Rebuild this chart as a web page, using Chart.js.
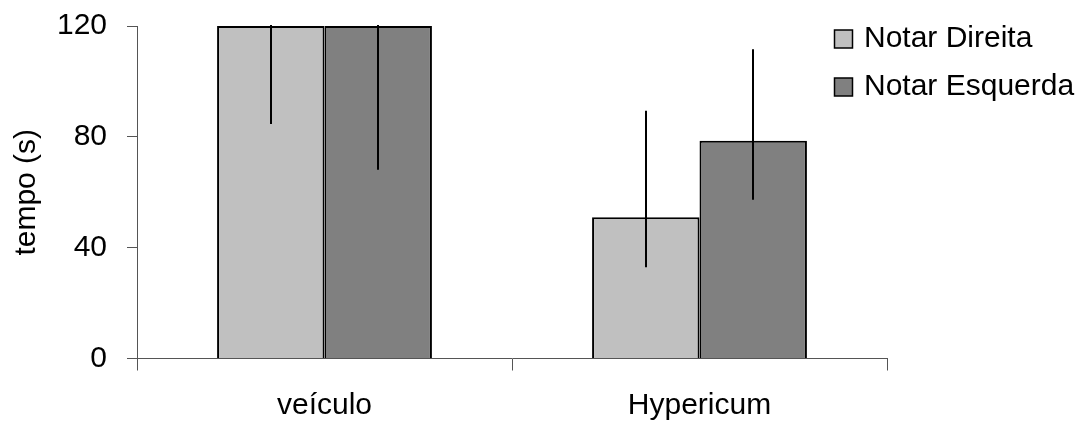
<!DOCTYPE html>
<html>
<head>
<meta charset="utf-8">
<script src="https://cdn.jsdelivr.net/npm/chart.js@4.4.1/dist/chart.umd.min.js"></script>
<style>
  html, body { margin: 0; padding: 0; background: #ffffff; }
  canvas { display: block; }
</style>
</head>
<body>
<canvas id="c" width="1088" height="425"></canvas>
<script>
// ---- data ----
const categories = ['veículo', 'Hypericum'];
const seriesNames = ['Notar Direita', 'Notar Esquerda'];
const direita = [120, 51.0];
const esquerda = [120, 78.6];
const direitaErrMinus = [35.4, 18.1];
const direitaErrPlus = [35.4, 38.4];
const esquerdaErrMinus = [51.9, 21.3];
const esquerdaErrPlus = [51.9, 33.0];
const yTicks = [0, 40, 80, 120];
const yTitle = 'tempo (s)';

// ---- style ----
const FONT = "'Liberation Sans', Arial, sans-serif";
const FS = 30;
const colors = ['#c0c0c0', '#808080'];
const axisColor = '#555555';

const errors = [
  { minus: direitaErrMinus, plus: direitaErrPlus },
  { minus: esquerdaErrMinus, plus: esquerdaErrPlus }
];

const errorBarPlugin = {
  id: 'errorBars',
  afterDatasetsDraw(chart) {
    const ctx = chart.ctx;
    const y = chart.scales.y;
    const area = chart.chartArea;
    ctx.save();
    ctx.beginPath();
    ctx.rect(area.left, area.top - 1, area.right - area.left, area.bottom - area.top + 2);
    ctx.clip();
    ctx.strokeStyle = '#000000';
    ctx.lineWidth = 2;
    chart.data.datasets.forEach((ds, i) => {
      const meta = chart.getDatasetMeta(i);
      meta.data.forEach((bar, j) => {
        const v = ds.data[j];
        const lo = v - errors[i].minus[j];
        const hi = v + errors[i].plus[j];
        const x = Math.round(bar.x);
        ctx.beginPath();
        ctx.moveTo(x, y.getPixelForValue(hi));
        ctx.lineTo(x, y.getPixelForValue(lo));
        ctx.stroke();
      });
    });
    ctx.restore();
  }
};

const legendPlugin = {
  id: 'customLegend',
  afterDraw(chart) {
    const ctx = chart.ctx;
    ctx.save();
    const x0 = 834.5, box = 18, rowY = [39, 87];
    chart.data.datasets.forEach((ds, i) => {
      const cy = rowY[i];
      ctx.fillStyle = ds.backgroundColor;
      ctx.fillRect(x0, cy - box / 2, box, box);
      ctx.strokeStyle = '#000000';
      ctx.lineWidth = 1.5;
      ctx.strokeRect(x0, cy - box / 2, box, box);
      ctx.fillStyle = '#000000';
      ctx.font = FS + 'px ' + FONT;
      ctx.textAlign = 'left';
      ctx.textBaseline = 'middle';
      ctx.fillText(ds.label, 864, cy);
    });
    ctx.restore();
  }
};

new Chart(document.getElementById('c'), {
  type: 'bar',
  data: {
    labels: categories,
    datasets: [
      { label: seriesNames[0], data: direita, backgroundColor: colors[0], borderColor: '#000000', borderWidth: 2 },
      { label: seriesNames[1], data: esquerda, backgroundColor: colors[1], borderColor: '#000000', borderWidth: 2 }
    ]
  },
  options: {
    responsive: false,
    animation: false,
    devicePixelRatio: 1,
    layout: { padding: { top: 25, right: 201, bottom: 0, left: 0 } },
    datasets: { bar: { categoryPercentage: 0.573, barPercentage: 1.0 } },
    plugins: { legend: { display: false }, tooltip: { enabled: false } },
    scales: {
      x: {
        offset: true,
        grid: { offset: true, drawOnChartArea: false, drawTicks: true, tickLength: 12, color: axisColor, lineWidth: 1 },
        border: { display: true, color: axisColor, width: 1 },
        ticks: { color: '#000000', font: { family: FONT, size: FS }, padding: 17, maxRotation: 0 },
        afterFit(scale) { scale.height = 66.5; }
      },
      y: {
        min: 0,
        max: 120,
        afterBuildTicks(scale) { scale.ticks = yTicks.map(v => ({ value: v })); },
        grid: { drawOnChartArea: false, drawTicks: true, tickLength: 10, color: axisColor, lineWidth: 1 },
        border: { display: true, color: axisColor, width: 1 },
        ticks: { color: '#000000', font: { family: FONT, size: FS, lineHeight: 0.4 }, padding: 20 },
        title: { display: true, text: yTitle, color: '#000000', font: { family: FONT, size: FS }, padding: { top: 9, bottom: 0 } },
        afterFit(scale) { scale.width = 137; }
      }
    }
  },
  plugins: [errorBarPlugin, legendPlugin]
});
</script>
</body>
</html>
